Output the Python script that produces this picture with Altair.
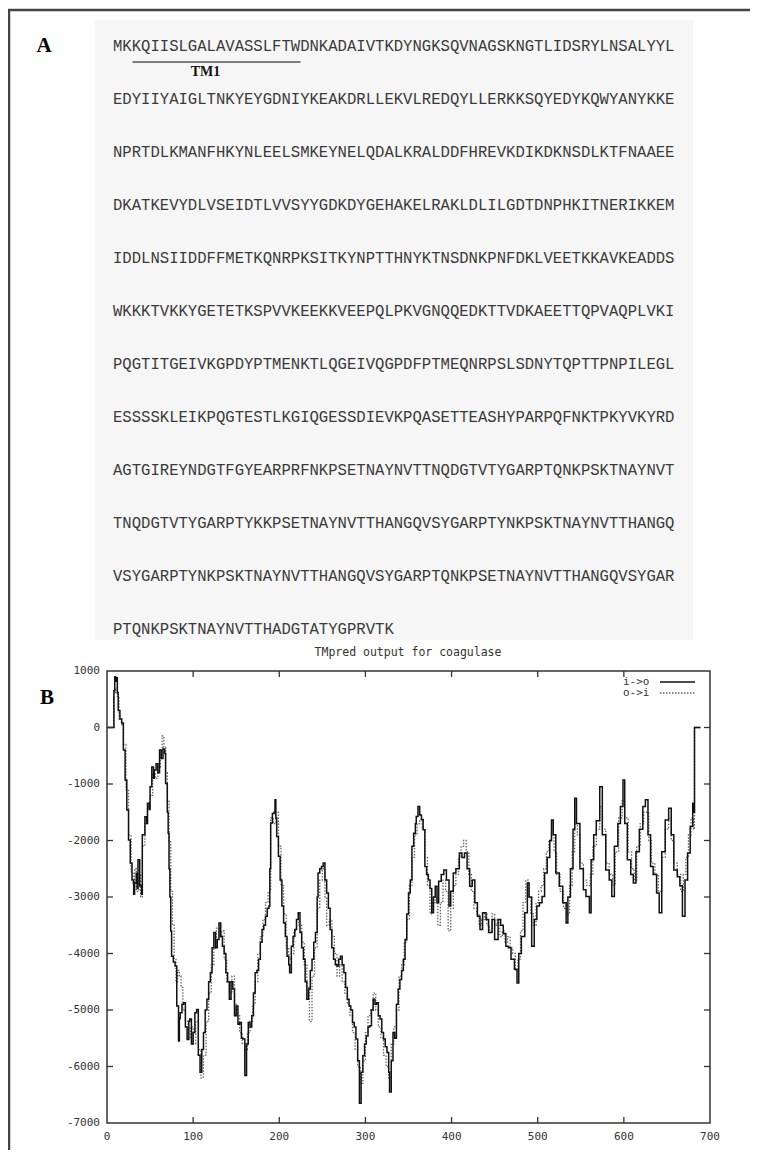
import altair as alt
import pandas as pd

# ---------------- Panel A: sequence ----------------
seq_lines = [
    "MKKQIISLGALAVASSLFTWDNKADAIVTKDYNGKSQVNAGSKNGTLIDSRYLNSALYYL",
    "EDYIIYAIGLTNKYEYGDNIYKEAKDRLLEKVLREDQYLLERKKSQYEDYKQWYANYKKE",
    "NPRTDLKMANFHKYNLEELSMKEYNELQDALKRALDDFHREVKDIKDKNSDLKTFNAAEE",
    "DKATKEVYDLVSEIDTLVVSYYGDKDYGEHAKELRAKLDLILGDTDNPHKITNERIKKEM",
    "IDDLNSIIDDFFMETKQNRPKSITKYNPTTHNYKTNSDNKPNFDKLVEETKKAVKEADDS",
    "WKKKTVKKYGETETKSPVVKEEKKVEEPQLPKVGNQQEDKTTVDKAEETTQPVAQPLVKI",
    "PQGTITGEIVKGPDYPTMENKTLQGEIVQGPDFPTMEQNRPSLSDNYTQPTTPNPILEGL",
    "ESSSSKLEIKPQGTESTLKGIQGESSDIEVKPQASETTEASHYPARPQFNKTPKYVKYRD",
    "AGTGIREYNDGTFGYEARPRFNKPSETNAYNVTTNQDGTVTYGARPTQNKPSKTNAYNVT",
    "TNQDGTVTYGARPTYKKPSETNAYNVTTHANGQVSYGARPTYNKPSKTNAYNVTTHANGQ",
    "VSYGARPTYNKPSKTNAYNVTTHANGQVSYGARPTQNKPSETNAYNVTTHANGQVSYGAR",
    "PTQNKPSKTNAYNVTTHADGTATYGPRVTK",
]
tm_label = "TM1"

# ---------------- Panel B: TMpred profile ----------------
io_res = [1, 7, 8, 9, 10, 11, 12, 13, 15, 17, 19, 21, 23, 25, 27, 29, 31, 32, 34, 35, 36, 38, 40, 41,
          44, 46, 47, 49, 50, 52, 54, 55, 57, 59, 61, 63, 65, 67, 68, 70, 71, 72, 73, 74, 75, 77, 79,
          81, 83, 84, 85, 87, 89, 91, 93, 95, 96, 98, 100, 102, 104, 106, 108, 110, 112, 114, 116,
          118, 120, 122, 124, 126, 128, 130, 132, 134, 136, 138, 140, 142, 144, 146, 148, 150, 152,
          154, 156, 158, 160, 162, 164, 166, 168, 170, 172, 174, 176, 178, 180, 182, 184, 186, 188,
          189, 190, 192, 194, 195, 196, 197, 199, 201, 203, 205, 207, 209, 211, 212, 214, 216, 218,
          220, 222, 224, 226, 228, 230, 232, 234, 236, 238, 240, 242, 244, 245, 247, 249, 251, 253,
          255, 257, 259, 261, 263, 265, 267, 269, 271, 273, 275, 277, 279, 281, 283, 285, 287, 289,
          291, 293, 295, 297, 299, 301, 303, 305, 307, 309, 311, 313, 315, 317, 319, 321, 323, 325,
          327, 328, 330, 332, 334, 336, 338, 340, 342, 344, 346, 348, 350, 352, 354, 356, 358, 359,
          361, 363, 365, 367, 369, 371, 373, 375, 377, 379, 381, 383, 385, 388, 391, 394, 397, 399,
          402, 405, 409, 412, 415, 418, 421, 424, 427, 430, 433, 436, 440, 443, 447, 450, 454, 457,
          460, 463, 466, 469, 473, 476, 478, 481, 485, 488, 490, 493, 496, 499, 502, 505, 508, 511,
          514, 516, 518, 521, 525, 529, 533, 535, 538, 541, 543, 545, 549, 553, 556, 560, 562, 565,
          568, 572, 575, 579, 583, 586, 589, 593, 596, 599, 601, 604, 608, 611, 614, 618, 622, 625,
          628, 631, 634, 638, 641, 644, 648, 652, 655, 658, 662, 665, 668, 671, 674, 677, 680, 681,
          682, 689]
io_val = [0, 0, 650, 900, 820, 880, 620, 300, 150, 80, -400, -930, -1460, -1990, -2400, -2700, -2950,
          -2750, -2580, -2850, -2340, -2800, -2950, -1900, -1580, -1700, -1340, -1450, -1050, -700,
          -900, -750, -640, -800, -400, -550, -380, -460, -990, -1500, -1870, -2500, -3000, -3600,
          -4050, -4150, -4220, -4930, -5550, -5150, -5050, -4900, -4870, -5300, -5520, -5200, -5160,
          -5600, -5400, -5050, -4990, -5800, -6100, -5700, -5400, -5000, -4810, -4500, -4340, -3900,
          -3630, -3900, -3750, -3460, -3700, -3870, -4000, -4340, -4500, -4810, -4500, -4630, -5100,
          -4930, -5250, -5220, -5500, -5515, -6160, -5600, -5220, -5300, -5100, -4700, -4340, -4300,
          -4100, -3800, -3575, -3500, -3340, -3200, -3160, -2500, -1690, -1520, -1500, -1280, -1600,
          -1930, -2280, -2700, -3160, -3460, -3700, -4050, -4200, -4340, -3870, -3700, -3575, -3400,
          -3280, -3630, -3900, -4100, -4500, -4810, -4630, -4300, -4100, -3800, -3630, -3000, -2575,
          -2500, -2460, -2400, -2700, -2930, -3200, -3575, -3900, -4100, -4200, -4220, -4100, -4050,
          -4200, -4340, -4600, -4810, -4930, -5000, -5220, -5300, -5515, -5900, -6650, -6100, -5810,
          -5600, -5460, -5300, -5280, -5000, -4810, -4900, -4870, -5100, -5160, -5400, -5515, -5650,
          -5750, -6100, -6450, -5900, -5400, -5500, -4900, -4630, -4460, -4300, -4100, -3750, -3300,
          -2930, -2700, -2100, -1870, -1700, -1575, -1400, -1550, -1630, -1810, -2460, -2600, -2700,
          -2850, -3280, -3000, -2810, -3100, -2720, -2600, -2520, -2700, -3160, -2900, -2575, -2500,
          -2220, -2300, -2220, -2500, -2810, -2700, -3100, -3340, -3575, -3280, -3400, -3630, -3400,
          -3750, -3400, -3500, -3650, -3870, -3900, -4100, -4280, -4520, -4000, -3700, -3280, -2750,
          -3000, -3870, -3400, -3160, -3100, -2990, -2575, -2300, -2000, -1635, -1900, -2575, -2810,
          -3100, -3460, -3000, -2500, -1800, -1250, -1700, -2500, -2870, -2990, -3280, -2340, -1900,
          -1650, -1050, -1900, -2520, -2700, -2990, -2100, -1700, -1400, -930, -1700, -2340, -2600,
          -2750, -2200, -1800, -1400, -1280, -1900, -2460, -2600, -2930, -3280, -2200, -1635, -1430,
          -1900, -2520, -2640, -2800, -3340, -2700, -2220, -1750, -1340, -1500, 0, 0]

oi_res = [1, 7, 8, 10, 12, 14, 17, 19, 22, 25, 28, 30, 32, 34, 37, 39, 41, 44, 47, 50, 53, 56, 59, 62,
          64, 66, 68, 70, 72, 74, 76, 78, 80, 82, 84, 86, 88, 91, 94, 97, 100, 103, 106, 109, 112,
          115, 118, 121, 124, 127, 130, 133, 136, 139, 142, 145, 148, 151, 154, 157, 160, 163, 166,
          169, 172, 175, 178, 181, 184, 187, 190, 193, 196, 199, 202, 205, 208, 211, 214, 217, 220,
          223, 226, 229, 232, 235, 238, 241, 244, 247, 250, 253, 255, 258, 261, 264, 267, 270, 273,
          276, 279, 282, 285, 288, 291, 294, 297, 300, 303, 306, 309, 312, 315, 318, 321, 324, 327,
          330, 333, 336, 339, 342, 345, 348, 351, 354, 357, 360, 363, 366, 369, 372, 375, 378, 381,
          384, 387, 390, 393, 396, 399, 402, 405, 408, 411, 414, 417, 420, 423, 426, 429, 432, 435,
          438, 441, 444, 447, 450, 453, 456, 459, 462, 465, 468, 471, 474, 477, 480, 483, 486, 489,
          492, 495, 498, 501, 504, 507, 510, 513, 516, 519, 522, 526, 530, 534, 537, 540, 543, 546,
          549, 553, 557, 561, 564, 568, 572, 575, 579, 583, 587, 590, 594, 598, 601, 605, 609, 612,
          615, 619, 623, 626, 629, 632, 636, 640, 644, 648, 652, 655, 658, 662, 666, 669, 672, 675,
          678, 681, 682, 689]
oi_val = [0, 0, 600, 700, 550, 150, 50, -300, -1100, -1900, -2550, -2750, -2500, -2900, -2600, -3000,
          -2100, -1700, -1400, -1200, -800, -900, -700, -450, -150, -350, -800, -1300, -2000, -2900,
          -3500, -4100, -4500, -4300, -4400, -4600, -5000, -5200, -5500, -5300, -5600, -5200, -5700,
          -6200, -5800, -5200, -4700, -4200, -3900, -3550, -3700, -3600, -4100, -4500, -4700, -4400,
          -4900, -5100, -5400, -5600, -5700, -5400, -5200, -4900, -4500, -4000, -3700, -3400, -3100,
          -2900, -1600, -1700, -1500, -2100, -2800, -3300, -3900, -4100, -4000, -3600, -3450, -3500,
          -3800, -4200, -4600, -5200, -4400, -3900, -3200, -2700, -2500, -3000, -3500, -3400, -3700,
          -4000, -4400, -4200, -4500, -4700, -4900, -5100, -5400, -5700, -6000, -6300, -5900, -5400,
          -5100, -5000, -4700, -5000, -5300, -5500, -5800, -6000, -6200, -5600, -5300, -5000, -4400,
          -4200, -3800, -3400, -2800, -2300, -1900, -1700, -1650, -1800, -2300, -2800, -3300, -3100,
          -3000, -3500, -3100, -2700, -2900, -3600, -3200, -2800, -2600, -2300, -2100, -2000, -2200,
          -2600, -2900, -3200, -3300, -3500, -3400, -3300, -3500, -3600, -3300, -3500, -3400, -3700,
          -3600, -3800, -3700, -3900, -4000, -4300, -4100, -3600, -3100, -2700, -3000, -3300, -3500,
          -3100, -2900, -2800, -2500, -2200, -2000, -1900, -2200, -2600, -2900, -3200, -3300, -2800,
          -2200, -1700, -1900, -2400, -2700, -2800, -2600, -2100, -1800, -1400, -1800, -2400, -2600,
          -2800, -2200, -1600, -1300, -1600, -2200, -2500, -2700, -2100, -1700, -1500, -1500, -2000,
          -2400, -2600, -2900, -2300, -1800, -1600, -2000, -2400, -2600, -2900, -2600, -2300, -1900,
          -1600, -1800, 0, 0]

x_ticks = [0, 100, 200, 300, 400, 500, 600, 700]
y_ticks = [1000, 0, -1000, -2000, -3000, -4000, -5000, -6000, -7000]
plot_title = "TMpred output for coagulase"
legend_labels = ["i->o", "o->i"]

W, H = 742, 1142
XS = alt.Scale(domain=[0, 700], range=[99, 702], nice=False, zero=False)
YS = alt.Scale(domain=[-7000, 1000], range=[1115, 663], nice=False, zero=False)
SEQ_Y = alt.Scale(domain=[0, 11], range=[38, 621], nice=False, zero=False)

one = pd.DataFrame({"k": [0]})

# figure frame
frame_top = alt.Chart(one).mark_rule(color="#444", strokeWidth=2.5).encode(
    x=alt.value(0), x2=alt.value(W), y=alt.value(2))
frame_left = alt.Chart(one).mark_rule(color="#444", strokeWidth=2.5).encode(
    x=alt.value(1), y=alt.value(2), y2=alt.value(H))

# panel A
bg = alt.Chart(one).mark_rect(color="#f6f6f6").encode(
    x=alt.value(87), x2=alt.value(685), y=alt.value(12), y2=alt.value(632))
seq_df = pd.DataFrame({"row": list(range(len(seq_lines))), "seq": seq_lines})
seq_text = alt.Chart(seq_df).mark_text(
    align="left", baseline="middle", font="Liberation Mono", fontSize=15.6, color="#3a3a3a"
).encode(x=alt.value(105), y=alt.Y("row:Q", scale=SEQ_Y, axis=None), text="seq:N")
underline = alt.Chart(one).mark_rule(color="#555", strokeWidth=1.5).encode(
    x=alt.value(124.5), x2=alt.value(292.5), y=alt.value(54))
tm = alt.Chart(pd.DataFrame({"t": [tm_label]})).mark_text(
    align="center", baseline="middle", font="Liberation Serif", fontWeight="bold", fontSize=14, color="#111"
).encode(x=alt.value(197.5), y=alt.value(64), text="t:N")
lab_a = alt.Chart(pd.DataFrame({"t": ["A"]})).mark_text(
    align="center", baseline="middle", font="Liberation Serif", fontWeight="bold", fontSize=21, color="#000"
).encode(x=alt.value(36), y=alt.value(38), text="t:N")
lab_b = alt.Chart(pd.DataFrame({"t": ["B"]})).mark_text(
    align="center", baseline="middle", font="Liberation Serif", fontWeight="bold", fontSize=21, color="#000"
).encode(x=alt.value(39), y=alt.value(690), text="t:N")

# panel B
box = alt.Chart(pd.DataFrame({"x0": [0], "x1": [700], "y0": [-7000], "y1": [1000]})).mark_rect(
    fillOpacity=0, stroke="#333", strokeWidth=1.5
).encode(x=alt.X("x0:Q", scale=XS, axis=None), x2="x1:Q",
         y=alt.Y("y0:Q", scale=YS, axis=None), y2="y1:Q")

xt = pd.DataFrame({"t": x_ticks[1:-1]})
yt = pd.DataFrame({"t": y_ticks[1:-1]})
tick_style = dict(color="#333", strokeWidth=1.3)
xtick_b = alt.Chart(xt).mark_rule(**tick_style).encode(
    x=alt.X("t:Q", scale=XS, axis=None), y=alt.value(1115), y2=alt.value(1109))
xtick_t = alt.Chart(xt).mark_rule(**tick_style).encode(
    x=alt.X("t:Q", scale=XS, axis=None), y=alt.value(663), y2=alt.value(669))
ytick_l = alt.Chart(yt).mark_rule(**tick_style).encode(
    y=alt.Y("t:Q", scale=YS, axis=None), x=alt.value(99), x2=alt.value(105))
ytick_r = alt.Chart(yt).mark_rule(**tick_style).encode(
    y=alt.Y("t:Q", scale=YS, axis=None), x=alt.value(702), x2=alt.value(696))

xl = pd.DataFrame({"t": x_ticks, "lab": [str(v) for v in x_ticks]})
yl = pd.DataFrame({"t": y_ticks, "lab": [str(v) for v in y_ticks]})
lab_style = dict(font="DejaVu Sans Mono", fontSize=11, color="#333")
xlabels = alt.Chart(xl).mark_text(align="center", baseline="top", **lab_style).encode(
    x=alt.X("t:Q", scale=XS, axis=None), y=alt.value(1123), text="lab:N")
ylabels = alt.Chart(yl).mark_text(align="right", baseline="middle", **lab_style).encode(
    y=alt.Y("t:Q", scale=YS, axis=None), x=alt.value(92), text="lab:N")

title = alt.Chart(pd.DataFrame({"t": [plot_title]})).mark_text(
    align="center", baseline="middle", font="DejaVu Sans Mono", fontSize=11.5, color="#333"
).encode(x=alt.value(400), y=alt.value(645), text="t:N")

leg_df = pd.DataFrame({"row": [0, 1], "lab": legend_labels})
leg_text = alt.Chart(leg_df).mark_text(align="left", baseline="middle", **lab_style).encode(
    x=alt.value(615), y=alt.Y("row:Q", scale=alt.Scale(domain=[0, 1], range=[674, 685]), axis=None),
    text="lab:N")
leg_solid = alt.Chart(one).mark_rule(color="#111", strokeWidth=1.6).encode(
    x=alt.value(652), x2=alt.value(687), y=alt.value(674))
leg_dot = alt.Chart(one).mark_rule(color="#666", strokeWidth=1.3, strokeDash=[1.5, 1.5]).encode(
    x=alt.value(652), x2=alt.value(687), y=alt.value(685))

oi_df = pd.DataFrame({"res": oi_res, "val": oi_val})
io_df = pd.DataFrame({"res": io_res, "val": io_val})
line_oi = alt.Chart(oi_df).mark_line(
    interpolate="step-after", color="#666", strokeWidth=1.3, strokeDash=[1.5, 1.5]
).encode(x=alt.X("res:Q", scale=XS, axis=None), y=alt.Y("val:Q", scale=YS, axis=None))
line_io = alt.Chart(io_df).mark_line(
    interpolate="step-after", color="#111", strokeWidth=1.5
).encode(x=alt.X("res:Q", scale=XS, axis=None), y=alt.Y("val:Q", scale=YS, axis=None))

chart = alt.layer(
    bg, frame_top, frame_left, seq_text, underline, tm, lab_a, lab_b,
    title, line_oi, line_io, box, xtick_b, xtick_t, ytick_l, ytick_r,
    xlabels, ylabels, leg_text, leg_solid, leg_dot
).resolve_scale(x="independent", y="independent").properties(
    width=W, height=H, padding=0, autosize=alt.AutoSizeParams(type="none")
).configure_view(stroke=None)

chart.save("out.html", embed_options={"renderer": "svg", "actions": False})
